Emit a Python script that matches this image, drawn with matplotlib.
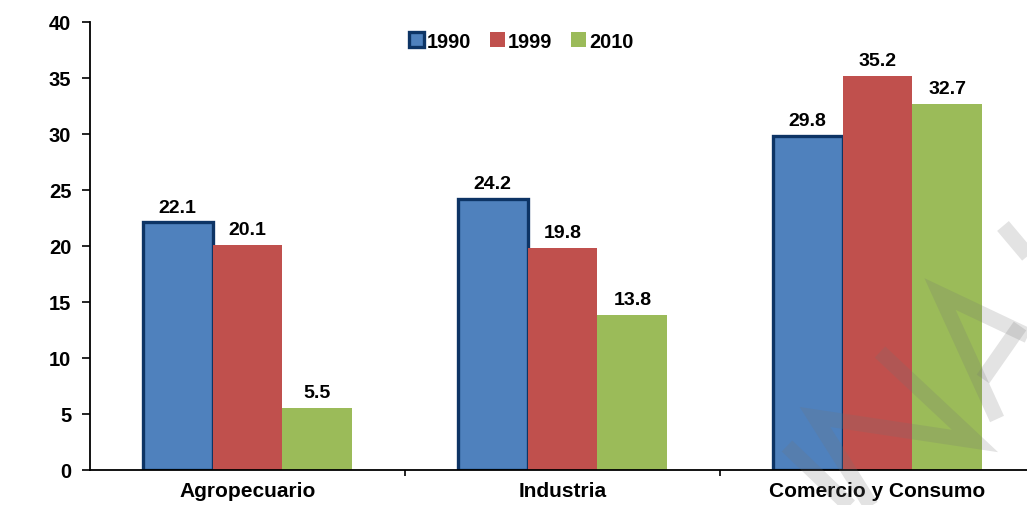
from matplotlib import pyplot as plt
from matplotlib.lines import Line2D
import numpy as np

plt.rcParams['font.family'] = ['Liberation Sans', 'DejaVu Sans']
plt.rcParams['font.weight'] = 'bold'

sectores = ["Agropecuario", "Industria", "Comercio y Consumo"]
anios = ["1990", "1999", "2010"]
v1990 = [22.1, 24.2, 29.8]
v1999 = [20.1, 19.8, 35.2]
v2010 = [5.5, 13.8, 32.7]

colores = ["#4F81BD", "#C0504D", "#9BBB59"]
borde_1990 = "#0D3465"

fig = plt.figure(figsize=(10.27, 5.06), dpi=100)
ax = fig.add_axes([90 / 1027, 1 - 471 / 506, 945 / 1027, 448 / 506])

x = np.arange(len(sectores))
w = 0.222
series = [v1990, v1999, v2010]
for i, (vals, col) in enumerate(zip(series, colores)):
    if i == 0:
        bars = ax.bar(x + (i - 1) * w, vals, w, color=col, edgecolor=borde_1990,
                      linewidth=2.4, label=anios[i], zorder=2)
    else:
        bars = ax.bar(x + (i - 1) * w, vals, w, color=col, label=anios[i], zorder=2)
    for b, v in zip(bars, vals):
        ax.annotate(f"{v:.1f}", (b.get_x() + b.get_width() / 2, v),
                    xytext=(0, 5), textcoords="offset points",
                    ha="center", va="bottom", fontsize=14, fontweight="bold")

ax.set_xlim(-0.5, 2.5)
ax.set_ylim(0, 40)
ax.set_yticks(np.arange(0, 41, 5))
ax.set_xticks(x)
ax.set_xticklabels(sectores)
ax.set_xticks([0.5, 1.5], minor=True)
ax.tick_params(axis="x", which="major", length=0, pad=8, labelsize=15)
ax.tick_params(axis="x", which="minor", length=4, width=1.2, direction="out")
ax.tick_params(axis="y", length=5.5, width=1.2, pad=8, labelsize=14.5)
for lab in ax.get_xticklabels() + ax.get_yticklabels():
    lab.set_fontweight("bold")

for s in ["top", "right"]:
    ax.spines[s].set_visible(False)
for s in ["left", "bottom"]:
    ax.spines[s].set_linewidth(1.3)

ax.legend(loc="center", bbox_to_anchor=(521 / 1027, 1 - 42 / 506),
          bbox_transform=fig.transFigure, ncol=3, frameon=False,
          handlelength=0.75, handleheight=0.75, handletextpad=0.15,
          columnspacing=0.95, borderaxespad=0, borderpad=0,
          prop={"weight": "bold", "size": 14.3})

# marca de agua gris translúcida (coordenadas en píxeles de la figura)
trazos = [
    [(787, 447), (858, 515)],
    [(880, 353), (975, 442), (815, 418), (873, 510)],
    [(997, 420), (940, 295), (1035, 340)],
    [(1020, 327), (983, 380)],
    [(1003, 227), (1035, 265)],
]
for t in trazos:
    px = np.array(t, dtype=float)
    fig.add_artist(Line2D(px[:, 0] / 1027, 1 - px[:, 1] / 506,
                          transform=fig.transFigure, color="0.45", alpha=0.2,
                          linewidth=11, solid_joinstyle="miter",
                          solid_capstyle="butt", zorder=5))

fig.savefig("out.png", dpi=100)
